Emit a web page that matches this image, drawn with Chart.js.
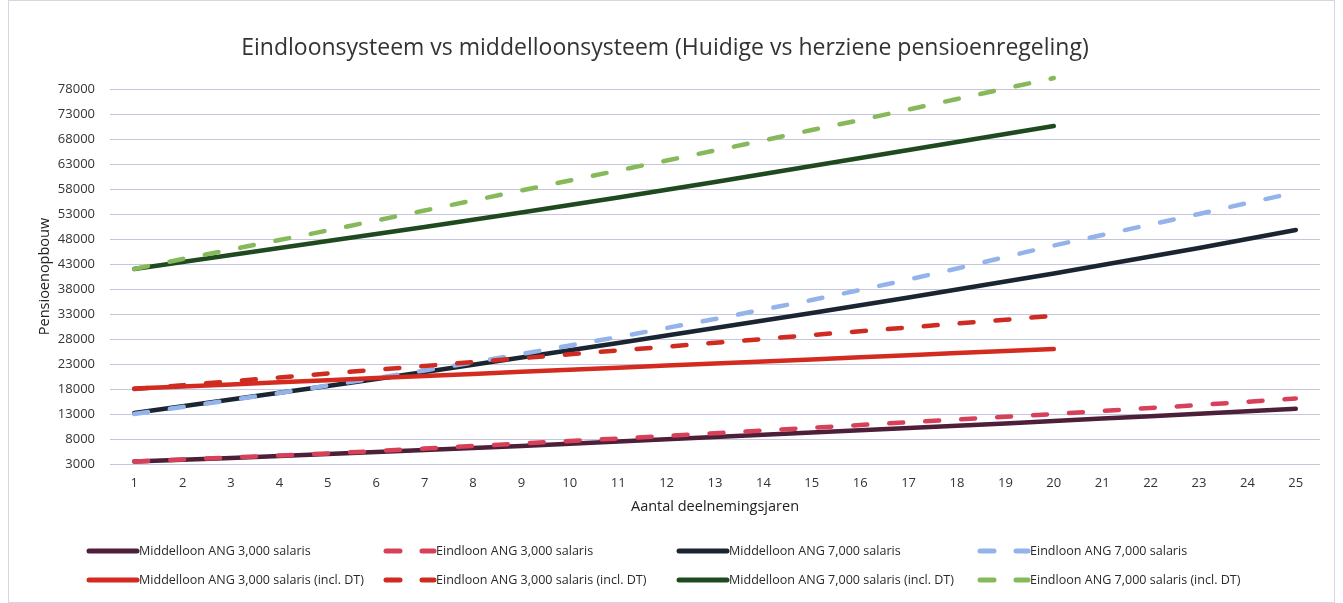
<!DOCTYPE html>
<html>
<head>
<meta charset="utf-8">
<script src="https://cdn.jsdelivr.net/npm/chart.js@4.4.1/dist/chart.umd.min.js"></script>
<style>
  html, body { margin: 0; padding: 0; background: #ffffff; }
  #wrap { position: relative; width: 1343px; height: 603px; }
  canvas { display: block; }
</style>
</head>
<body>
<div id="wrap"><canvas id="c" width="1343" height="603"></canvas></div>
<script>
// ---------- data ----------
const years = ["1","2","3","4","5","6","7","8","9","10","11","12","13","14","15","16","17","18","19","20","21","22","23","24","25"];
const yTicks = [3000, 8000, 13000, 18000, 23000, 28000, 33000, 38000, 43000, 48000, 53000, 58000, 63000, 68000, 73000, 78000];

const middelloon3000 = [3500, 3850, 4200, 4600, 5000, 5400, 5800, 6200, 6600, 7050, 7500, 7950, 8400, 8850, 9300, 9750, 10200, 10650, 11100, 11600, 12100, 12550, 13050, 13550, 14050];
const eindloon3000 = [3500, 3900, 4300, 4700, 5100, 5600, 6100, 6600, 7100, 7600, 8100, 8600, 9150, 9700, 10250, 10800, 11350, 11900, 12450, 13000, 13600, 14200, 14800, 15450, 16100];
const middelloon7000 = [13200, 14550, 15900, 17250, 18600, 20000, 21400, 22850, 24300, 25750, 27200, 28700, 30200, 31700, 33200, 34750, 36300, 37900, 39500, 41100, 42800, 44500, 46200, 48000, 49800];
const eindloon7000 = [13000, 14400, 15800, 17200, 18700, 20200, 21700, 23300, 25000, 26700, 28400, 30200, 32000, 33900, 35800, 37800, 39900, 42100, 44400, 46700, 48800, 50900, 53000, 55200, 57300];
const middelloon3000DT = [18100, 18500, 18900, 19350, 19750, 20200, 20600, 21000, 21450, 21850, 22250, 22700, 23100, 23500, 23900, 24350, 24750, 25200, 25600, 26000, null, null, null, null, null];
const eindloon3000DT = [18000, 18750, 19550, 20300, 21100, 21850, 22600, 23400, 24150, 24950, 25700, 26450, 27250, 28000, 28800, 29550, 30300, 31100, 31850, 32650, null, null, null, null, null];
const middelloon7000DT = [42000, 43400, 44800, 46200, 47600, 49000, 50400, 51850, 53300, 54800, 56300, 57850, 59400, 61000, 62600, 64200, 65800, 67400, 69000, 70600, null, null, null, null, null];
const eindloon7000DT = [42000, 44000, 45900, 47800, 49700, 51700, 53700, 55700, 57700, 59700, 61700, 63700, 65700, 67700, 69800, 71800, 73900, 76000, 78100, 80200, null, null, null, null, null];

const seriesLabels = [
  "Middelloon ANG 3,000 salaris",
  "Eindloon ANG 3,000 salaris",
  "Middelloon ANG 7,000 salaris",
  "Eindloon ANG 7,000 salaris",
  "Middelloon ANG 3,000 salaris (incl. DT)",
  "Eindloon ANG 3,000 salaris (incl. DT)",
  "Middelloon ANG 7,000 salaris (incl. DT)",
  "Eindloon ANG 7,000 salaris (incl. DT)"
];
const seriesData = [middelloon3000, eindloon3000, middelloon7000, eindloon7000, middelloon3000DT, eindloon3000DT, middelloon7000DT, eindloon7000DT];
const seriesColors = ["#4d1f38", "#d8405a", "#1b2532", "#93b3ea", "#d42b20", "#cf2b20", "#1f4a20", "#86b95a"];
const seriesDashed = [false, true, false, true, false, true, false, true];

// ---------- style ----------
const FONT = "'Open Sans', 'Noto Sans', sans-serif";
const DASH = [14, 22];
const legendColX = [87, 384, 677, 978];
const legendRowY = [551, 580];

const datasets = seriesData.map((d, i) => ({
  label: seriesLabels[i],
  data: d,
  borderColor: seriesColors[i],
  backgroundColor: seriesColors[i],
  borderWidth: 4.5,
  borderDash: seriesDashed[i] ? DASH : [],
  borderCapStyle: 'round',
  pointRadius: 0,
  pointHoverRadius: 0,
  tension: 0,
  fill: false,
  spanGaps: false,
  clip: false,
  order: -i
}));

const gridLegend = {
  id: 'gridLegend',
  afterDraw(chart) {
    const ctx = chart.ctx;
    ctx.save();
    chart.data.datasets.forEach((ds, i) => {
      const col = i % 4, row = Math.floor(i / 4);
      const x = legendColX[col], y = legendRowY[row];
      ctx.beginPath();
      ctx.strokeStyle = ds.borderColor;
      ctx.lineWidth = 5;
      ctx.lineCap = 'round';
      ctx.setLineDash(seriesDashed[i] ? [14, 22] : []);
      ctx.moveTo(x + 2, y);
      ctx.lineTo(x + 50, y);
      ctx.stroke();
      ctx.setLineDash([]);
      ctx.fillStyle = '#2a2a2a';
      ctx.font = "13.5px " + FONT;
      ctx.textBaseline = 'middle';
      ctx.textAlign = 'left';
      ctx.save();
      ctx.translate(x + 52, y);
      ctx.scale(0.93, 1);
      ctx.fillText(ds.label, 0, 0);
      ctx.restore();
    });
    ctx.strokeStyle = '#d6d6e2';
    ctx.lineWidth = 1;
    ctx.strokeRect(8.5, 0.5, 1326, 602);
    ctx.restore();
  }
};

new Chart(document.getElementById('c'), {
  type: 'line',
  data: { labels: years, datasets: datasets },
  plugins: [gridLegend],
  options: {
    responsive: false,
    animation: false,
    devicePixelRatio: 1,
    layout: { padding: { left: 10, right: 23, top: 0, bottom: 79 } },
    plugins: {
      legend: { display: false },
      tooltip: { enabled: false },
      title: {
        display: true,
        text: "Eindloonsysteem vs middelloonsysteem (Huidige vs herziene pensioenregeling)",
        color: '#333333',
        font: { family: FONT, size: 23, weight: 'normal', lineHeight: 1.2 },
        padding: { top: 35, bottom: 26.4 }
      }
    },
    scales: {
      x: {
        type: 'category',
        offset: true,
        grid: { display: false, drawTicks: false },
        border: { display: false },
        ticks: { color: '#333333', font: { family: FONT, size: 13 }, padding: 11, maxRotation: 0, autoSkip: false },
        title: {
          display: true,
          text: 'Aantal deelnemingsjaren',
          color: '#222222',
          font: { family: FONT, size: 14.5 },
          padding: { top: 0, bottom: 8 }
        },
        afterFit(scale) { scale.height = 60; }
      },
      y: {
        type: 'linear',
        min: 3000,
        max: 78000,
        afterBuildTicks(scale) { scale.ticks = yTicks.map(v => ({ value: v })); },
        grid: { color: 'rgba(150,150,190,0.55)', lineWidth: 1, drawTicks: false },
        border: { display: false },
        ticks: {
          color: '#333333',
          font: { family: FONT, size: 13 },
          padding: 15,
          callback: (v) => String(v)
        },
        title: {
          display: true,
          text: 'Pensioenopbouw',
          color: '#222222',
          font: { family: FONT, size: 14.5 },
          padding: { top: 26, bottom: 0 }
        },
        afterFit(scale) { scale.width = 100; }
      }
    }
  }
});
</script>
</body>
</html>
